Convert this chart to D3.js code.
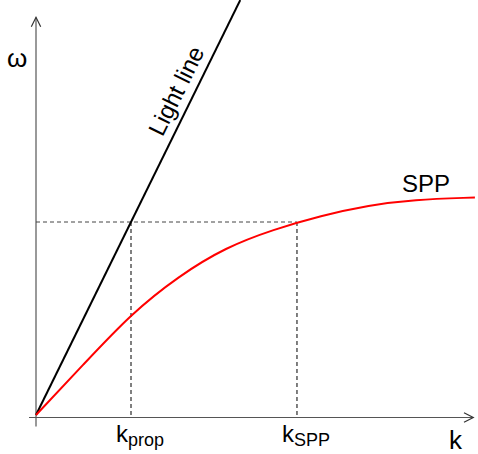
<!DOCTYPE html>
<html>
<head>
<meta charset="utf-8" />
<title>SPP dispersion</title>
<script src="https://cdn.jsdelivr.net/npm/d3@7"></script>
<style>
    body { margin:0; background:#fff; }
    svg text { font-family: "Liberation Sans", Arial, sans-serif; fill:#000; }
</style>
</head>
<body>
<svg id="chart" width="478" height="454"></svg>
<script>
// data (k in units of k_prop, omega in units of omega at the crossing)
var sppK     = [0, 0.5, 1, 1.5, 2, 2.5, 3, 3.5, 4, 4.5, 4.62];
var sppOmega = [0, 0.262, 0.513, 0.712, 0.86, 0.958, 1.03, 1.083, 1.113, 1.125, 1.127];
var lightK   = [0, 2.15];
var tickK    = [1, 2.747];
var tickMain = ["k", "k"];
var tickSub  = ["prop", "SPP"];
var omegaCross = 1;

var svg = d3.select("#chart");

var x = d3.scaleLinear().domain([0, 1]).range([36, 131]),
    y = d3.scaleLinear().domain([0, 1]).range([415, 222]);

var axisY = 417.5, axisX = 36;

// axes with open arrow heads
svg.append("line").attr("x1", 29).attr("x2", 473).attr("y1", axisY).attr("y2", axisY)
    .attr("stroke", "#555").attr("stroke-width", 1.2);
svg.append("path").attr("d", "M464,412.7 L473.3,417.5 L464,422.3")
    .attr("fill", "none").attr("stroke", "#333").attr("stroke-width", 1.2);
svg.append("line").attr("x1", axisX).attr("x2", axisX).attr("y1", 426.5).attr("y2", 17.5)
    .attr("stroke", "#555").attr("stroke-width", 1.2);
svg.append("path").attr("d", "M31.3,26.7 L36,17.3 L40.7,26.7")
    .attr("fill", "none").attr("stroke", "#333").attr("stroke-width", 1.2);

// dashed guide lines
svg.append("line")
    .attr("x1", x(0)).attr("x2", x(tickK[1]))
    .attr("y1", y(omegaCross)).attr("y2", y(omegaCross))
    .attr("stroke", "#444").attr("stroke-dasharray", "4,3");
svg.selectAll(".guide").data(tickK).enter().append("line")
    .attr("class", "guide")
    .attr("x1", function(d){ return x(d); }).attr("x2", function(d){ return x(d); })
    .attr("y1", y(omegaCross)).attr("y2", axisY)
    .attr("stroke", function(d, i){ return i == 0 ? "#000" : "#555"; })
    .attr("stroke-width", function(d, i){ return i == 0 ? 1 : 1.5; })
    .attr("stroke-dasharray", "4,3");

// light line
svg.append("path")
    .datum(lightK)
    .attr("d", d3.line().x(function(d){ return x(d); }).y(function(d){ return y(d); }))
    .attr("stroke", "#000").attr("stroke-width", 2).attr("fill", "none");

// SPP curve
var spp = sppK.map(function(k, i){ return {k: k, w: sppOmega[i]}; });
svg.append("path")
    .datum(spp)
    .attr("d", d3.line().curve(d3.curveNatural)
        .x(function(d){ return x(d.k); }).y(function(d){ return y(d.w); }))
    .attr("stroke", "#ff0000").attr("stroke-width", 2).attr("fill", "none");

// labels
var ang = Math.atan2(y(lightK[1]) - y(0), x(lightK[1]) - x(0)) * 180 / Math.PI;
svg.append("text")
    .attr("transform", "translate(" + x(1.64) + "," + y(1.64) + ") rotate(" + ang + ")")
    .attr("text-anchor", "middle").attr("dy", -9)
    .style("font-size", "24px").text("Light line");

svg.append("text").attr("x", 402).attr("y", 191.5).style("font-size", "24px").text("SPP");
svg.append("text").attr("x", 7).attr("y", 67).style("font-size", "26px").text("ω");
svg.append("text").attr("x", 449).attr("y", 449).style("font-size", "26px").text("k");

var tick = svg.selectAll(".tick").data(tickK).enter().append("text")
    .attr("class", "tick")
    .attr("x", function(d){ return x(d) - 15; })
    .attr("y", 442)
    .style("font-size", "24px");
tick.append("tspan").text(function(d, i){ return tickMain[i]; });
tick.append("tspan").attr("dy", 4).style("font-size", "18px")
    .text(function(d, i){ return tickSub[i]; });
</script>
</body>
</html>
